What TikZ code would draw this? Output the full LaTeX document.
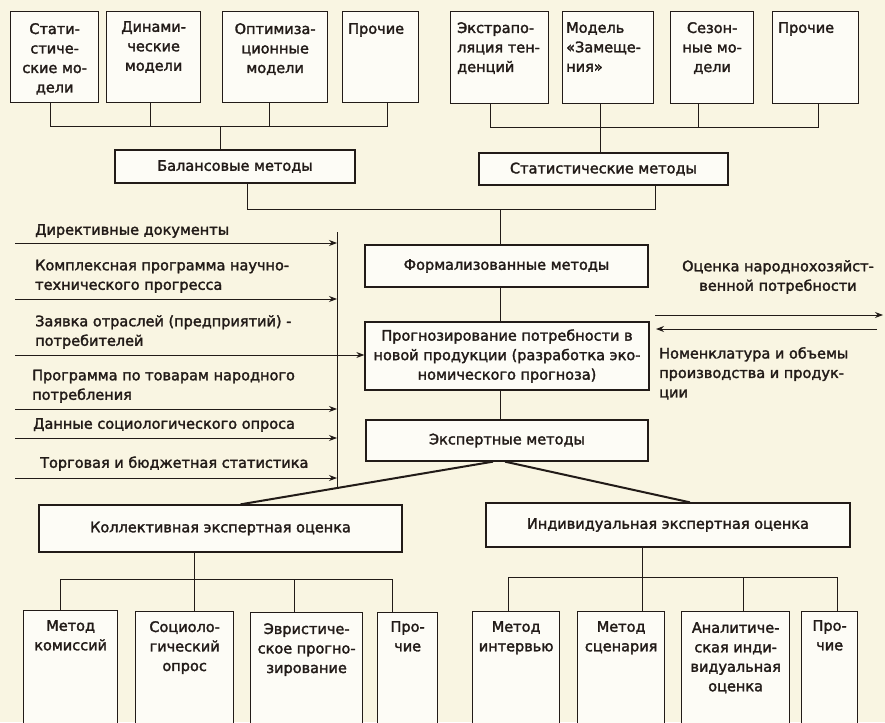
\documentclass[tikz,border=0pt]{standalone}
\usepackage{fontspec}
\setmainfont{DejaVu Sans}[FakeBold=2]
\usetikzlibrary{positioning,arrows.meta,calc}
\definecolor{paper}{RGB}{249,245,226}
\definecolor{ink}{RGB}{34,27,24}
\definecolor{cellbg}{RGB}{253,252,246}
\tikzset{
  fig/.style={font=\fontsize{14.5}{19.5}\selectfont,x=1pt,y=1pt,color=ink},
  box/.style={draw=ink,line width=1.3pt,fill=cellbg,align=center,inner sep=2pt},
  cell/.style={box,anchor=north west,inner sep=0pt},
  ctxt/.style={anchor=north,align=center,inner sep=0pt},
  ltxt/.style={anchor=north west,align=left,inner sep=0pt},
  ln/.style={draw=ink,line width=1pt},
  arr/.style={ln,-{Stealth[length=8pt,width=6pt]}},
  diag/.style={draw=ink,line width=2pt},
  lbl/.style={anchor=south west,align=left,inner sep=0pt},
}

\begin{document}
\begin{tikzpicture}[fig]
\useasboundingbox (0,0) rectangle (885,-722);
\clip (0,0) rectangle (885,-722);
\fill[paper] (0,0) rectangle (885,-722);

% Top row, left: models of the balance methods
\node[cell,minimum width=88,minimum height=91] (st1) at (10,-11) {};
\node[ctxt] (st1t) at ([yshift=-12]st1.north) {Стати-\\стиче-\\ские мо-\\дели};
\node[cell,minimum width=94,minimum height=91] (st2) at (106,-11) {};
\node[ctxt] (st2t) at ([yshift=-10]st2.north) {Динами-\\ческие\\модели};
\node[cell,minimum width=105,minimum height=91] (st3) at (222,-11) {};
\node[ctxt] (st3t) at ([yshift=-12]st3.north) {Оптимиза-\\ционные\\модели};
\node[cell,minimum width=76,minimum height=91] (st4) at (342,-11) {};
\node[ltxt] (st4t) at ([xshift=6,yshift=-12]st4.north west) {Прочие};

% Top row, right: models of the statistical methods
\node[cell,minimum width=98,minimum height=92] (sr1) at (450,-11) {};
\node[ltxt] (sr1t) at ([xshift=7,yshift=-11]sr1.north west) {Экстрапо-\\ляция тен-\\денций};
\node[cell,minimum width=91,minimum height=92] (sr2) at (562,-11) {};
\node[ltxt] (sr2t) at ([xshift=4,yshift=-11]sr2.north west) {Модель\\«Замеще-\\ния»};
\node[cell,minimum width=83,minimum height=92] (sr3) at (670,-11) {};
\node[ctxt] (sr3t) at ([yshift=-11]sr3.north) {Сезон-\\ные мо-\\дели};
\node[cell,minimum width=86,minimum height=92] (sr4) at (772,-11) {};
\node[ltxt] (sr4t) at ([xshift=6,yshift=-11]sr4.north west) {Прочие};

% Row 1: balance and statistical methods
\node[box,minimum width=240,minimum height=33] (bal) at (235,-166.5) {Балансовые методы};
\node[box,minimum width=249,minimum height=32] (stat) at (603.5,-169) {Статистические методы};

\coordinate (lbus) at (220,-127);
\draw[ln] ([xshift=-4]st1.south) -- ([xshift=-4]st1.south |- lbus);
\draw[ln] ([xshift=-3]st2.south) -- ([xshift=-3]st2.south |- lbus);
\draw[ln] ([xshift=-6]st3.south) -- ([xshift=-6]st3.south |- lbus);
\draw[ln] ([xshift=7]st4.south) -- ([xshift=7]st4.south |- lbus);
\draw[ln] ([xshift=-4]st1.south |- lbus) -- ([xshift=7]st4.south |- lbus);
\draw[ln] (lbus) -- (lbus |- bal.north);

\coordinate (rbus) at (599,-128);
\draw[ln] ([xshift=-9]sr1.south) -- ([xshift=-9]sr1.south |- rbus);
\draw[ln] ([xshift=-14]sr3.south) -- ([xshift=-14]sr3.south |- rbus);
\draw[ln] ([xshift=3]sr4.south) -- ([xshift=3]sr4.south |- rbus);
\draw[ln] ([xshift=-9]sr1.south |- rbus) -- ([xshift=3]sr4.south |- rbus);
\draw[ln] ([xshift=-8]sr2.south) -- ([xshift=-8]sr2.south |- stat.north);

% Row 2: formalized methods, forecast, expert methods
\node[box,minimum width=283,minimum height=42] (form) at (506.5,-266) {Формализованные методы};
\node[box,minimum width=284,minimum height=68] (prog) at (507,-356)
  {Прогнозирование потребности в\\новой продукции (разработка эко-\\номического прогноза)};
\node[box,minimum width=282,minimum height=41] (exp) at (507,-440.5) {Экспертные методы};

\coordinate (jn) at (500,-209);
\draw[ln] ([xshift=12]bal.south) -- ([xshift=12]bal.south |- jn)
  -- ([xshift=51.5]stat.south |- jn) -- ([xshift=51.5]stat.south);
\draw[ln] (jn) -- (jn |- form.north);
\draw[ln] (form.south -| jn) -- (prog.north -| jn);
\draw[ln] (prog.south -| jn) -- (exp.north -| jn);

% Inputs from the left
\coordinate (vt) at (337,-232);
\coordinate (vb) at (337,-487);
\draw[ln] (vt) -- (vb);
\coordinate (in1) at (15,-243);
\coordinate (in2) at (15,-299);
\coordinate (in3) at (15,-355);
\coordinate (in4) at (15,-409);
\coordinate (in5) at (15,-438);
\coordinate (in6) at (15,-478);
\draw[arr] (in1) -- (in1 -| vt);
\draw[arr] (in2) -- (in2 -| vt);
\draw[arr] (in3) -- (in3 -| prog.west);
\draw[arr] (in4) -- (in4 -| vt);
\draw[arr] (in5) -- (in5 -| vt);
\draw[arr] (in6) -- (in6 -| vt);
\node[lbl] (lb1) at (35,-238) {Директивные документы};
\node[lbl] (lb2) at (35,-293) {Комплексная программа научно-\\технического прогресса};
\node[lbl] (lb3) at (35,-349) {Заявка отраслей (предприятий) -\\потребителей};
\node[lbl] (lb4) at (32,-403) {Программа по товарам народного\\потребления};
\node[lbl] (lb5) at (33,-432) {Данные социологического опроса};
\node[lbl] (lb6) at (40,-471) {Торговая и бюджетная статистика};

% Exchange on the right
\coordinate (oa) at (655,-315);
\coordinate (ob) at (883,-315);
\coordinate (na) at (877,-329);
\coordinate (nb) at (656,-329);
\draw[arr] (oa) -- (ob);
\draw[arr] (na) -- (nb);
\node[align=center,inner sep=0pt] (ocn) at (778,-277) {Оценка народнохозяйст-\\венной потребности};
\node[ltxt] (nom) at (659,-347) {Номенклатура и объемы\\производства и продук-\\ции};

% Row 3: collective and individual expert estimates
\node[box,minimum width=363,minimum height=47] (kol) at (220.5,-528.5) {Коллективная экспертная оценка};
\node[box,minimum width=364,minimum height=44] (ind) at (668,-525) {Индивидуальная экспертная оценка};
\draw[diag] ([xshift=-14]exp.south) -- ([xshift=20]kol.north);
\draw[diag] ([xshift=-2]exp.south) -- ([xshift=22]ind.north);

% Row 4: collective methods
\node[cell,minimum width=94,minimum height=120] (k1) at (23,-610) {};
\node[ctxt] (k1t) at ([yshift=-10]k1.north) {Метод\\комиссий};
\node[cell,minimum width=98,minimum height=120] (k2) at (135,-611) {};
\node[ctxt] (k2t) at ([yshift=-10]k2.north) {Социоло-\\гический\\опрос};
\node[cell,minimum width=112,minimum height=120] (k3) at (250,-612) {};
\node[ctxt] (k3t) at ([yshift=-11]k3.north) {Эвристиче-\\ское прогно-\\зирование};
\node[cell,minimum width=60,minimum height=120] (k4) at (377,-612) {};
\node[ctxt] (k4t) at ([yshift=-9]k4.north) {Про-\\чие};

\coordinate (kbus) at (194,-579);
\draw[ln] (kol.south -| kbus) -- (kbus);
\draw[ln] ([xshift=-10]k1.north |- kbus) -- ([xshift=-15]k4.north |- kbus);
\draw[ln] ([xshift=-10]k1.north |- kbus) -- ([xshift=-10]k1.north);
\draw[ln] ([xshift=10]k2.north |- kbus) -- ([xshift=10]k2.north);
\draw[ln] ([xshift=-12]k3.north |- kbus) -- ([xshift=-12]k3.north);
\draw[ln] ([xshift=-15]k4.north |- kbus) -- ([xshift=-15]k4.north);

% Row 4: individual methods
\node[cell,minimum width=87,minimum height=120] (i1) at (472,-611) {};
\node[ctxt] (i1t) at ([yshift=-10]i1.north) {Метод\\интервью};
\node[cell,minimum width=87,minimum height=120] (i2) at (577,-611) {};
\node[ctxt] (i2t) at ([yshift=-10]i2.north) {Метод\\сценария};
\node[cell,minimum width=108,minimum height=120] (i3) at (681,-611) {};
\node[ctxt] (i3t) at ([yshift=-11]i3.north) {Аналитиче-\\ская инди-\\видуальная\\оценка};
\node[cell,minimum width=56,minimum height=120] (i4) at (801,-611) {};
\node[ctxt] (i4t) at ([yshift=-9]i4.north) {Про-\\чие};

\coordinate (ibus) at (642,-577);
\draw[ln] (ind.south -| ibus) -- (ibus);
\draw[ln] ([xshift=-7.5]i1.north |- ibus) -- ([xshift=8]i4.north |- ibus);
\draw[ln] ([xshift=-7.5]i1.north |- ibus) -- ([xshift=-7.5]i1.north);
\draw[ln] ([xshift=21.5]i2.north |- ibus) -- ([xshift=21.5]i2.north);
\draw[ln] ([xshift=8]i3.north |- ibus) -- ([xshift=8]i3.north);
\draw[ln] ([xshift=8]i4.north |- ibus) -- ([xshift=8]i4.north);

\end{tikzpicture}
\end{document}
